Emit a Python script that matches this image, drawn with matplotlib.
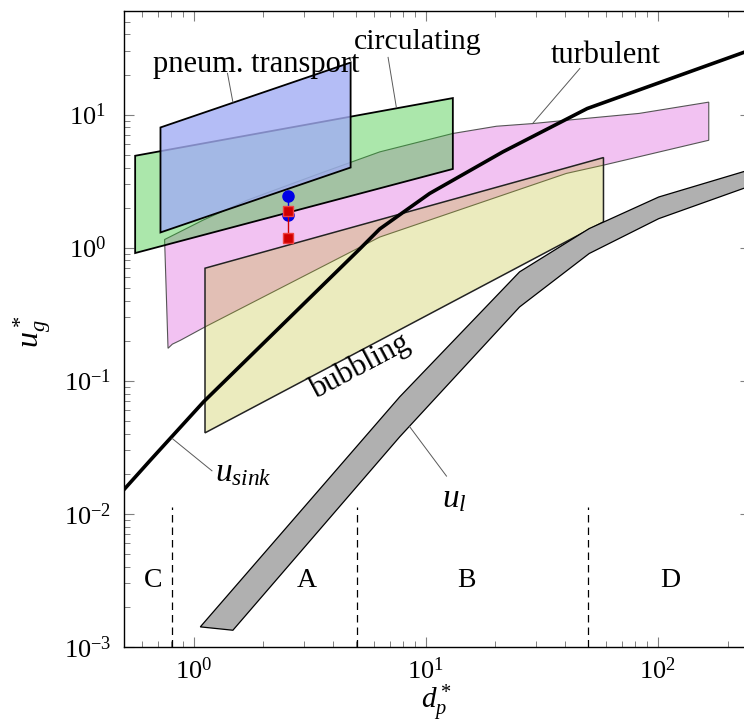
import matplotlib
matplotlib.use("Agg")
import matplotlib.pyplot as plt
from matplotlib.patches import Polygon

plt.rcParams["font.family"] = ["Liberation Serif", "DejaVu Serif"]
plt.rcParams["mathtext.fontset"] = "custom"
plt.rcParams["mathtext.rm"] = "Liberation Serif"
plt.rcParams["mathtext.it"] = "Liberation Serif:italic"

# regime areas (d_p*, u_g*)
pneum_x = [0.72, 4.75, 4.75, 0.72]
pneum_y = [8.0, 24.6, 4.0, 1.3]

circ_x = [0.56, 13.1, 13.1, 0.56]
circ_y = [4.9, 13.3, 3.9, 0.91]

turb_x = [0.750, 1.10, 1.70, 3.50, 6.34, 13.06, 20.2, 28.8, 40.4, 83.2, 166,
          166, 58.2, 40.4, 6.34, 1.123, 0.877, 0.81, 0.776]
turb_y = [1.15, 1.61, 2.27, 3.61, 5.24, 7.20, 8.17, 8.55, 9.06, 10.2, 12.4,
          6.41, 4.16, 3.61, 1.20, 0.254, 0.201, 0.188, 0.175]

bubb_x = [1.12, 58.4, 58.4, 1.12]
bubb_y = [0.70, 4.75, 1.56, 0.0405]

# terminal velocity u_sink
sink_x = [0.5, 0.652, 1.104, 5.2, 6.34, 10.4, 21.5, 49.7, 250]
sink_y = [0.0151, 0.0253, 0.0693, 0.976, 1.38, 2.55, 5.24, 11.1, 30.5]

# minimum fluidization band u_l
ul_up_x = [1.069, 7.73, 25.4, 50.7, 101, 250]
ul_up_y = [0.00141, 0.0755, 0.657, 1.39, 2.40, 3.85]
ul_lo_x = [1.477, 7.73, 25.4, 50.7, 101, 250]
ul_lo_y = [0.00133, 0.0378, 0.358, 0.903, 1.65, 2.9]

# Geldart group borders
geldart_x = [0.81, 5.07, 50.0]
geldart_top = 0.0112
groups = ["C", "A", "B", "D"]
groups_x = [0.668, 3.07, 15.0, 113]
groups_y = 0.00312

# measured points
pt_x = [2.54, 2.54]
blue_y = [2.45, 1.75]
red_y = [1.89, 1.18]

fig = plt.figure(figsize=(7.44, 7.26), dpi=100)
ax = fig.add_axes([0.1663, 0.1092, 0.8418, 0.8756])
ax.set_xscale("log")
ax.set_yscale("log")
ax.set_xlim(0.5, 250)
ax.set_ylim(1e-3, 60)

# fills: pink at the back, yellow / green / blue semi transparent on top
ax.add_patch(Polygon(list(zip(turb_x, turb_y)), closed=True, fc="#f2c2f2",
                     ec="#555555", lw=0.8, zorder=2))
ax.add_patch(Polygon(list(zip(bubb_x, bubb_y)), closed=True, fc=(0.73, 0.73, 0.09, 0.28),
                     ec="#222222", lw=1.1, zorder=3))
ax.add_patch(Polygon(list(zip(circ_x, circ_y)), closed=True, fc=(0.18, 0.77, 0.18, 0.4),
                     ec="black", lw=1.3, zorder=4))
ax.add_patch(Polygon(list(zip(pneum_x, pneum_y)), closed=True, fc=(0.635, 0.68, 0.955, 0.8),
                     ec="black", lw=1.3, zorder=5))

band = list(zip(ul_up_x, ul_up_y)) + list(zip(ul_lo_x[::-1], ul_lo_y[::-1]))
ax.add_patch(Polygon(band, closed=True, fc="#b0b0b0", ec="black", lw=0.9, zorder=6))

ax.plot(sink_x, sink_y, color="black", lw=2.6, zorder=7)

for gx in geldart_x:
    ax.plot([gx, gx], [1e-3, geldart_top], color="black", lw=0.9,
            dashes=(6, 4), zorder=6)
for g, gx in zip(groups, groups_x):
    ax.text(gx, groups_y, g, fontsize=20, ha="center", va="center")

ax.plot(pt_x, blue_y, color="#0000e6", marker="o", ms=8, lw=1, zorder=8)
ax.plot(pt_x, red_y, color="#d00000", marker="s", ms=7.5, mec="#f04040", lw=1, zorder=9)

# labels with leader lines
lead = dict(color="0.35", lw=0.7, zorder=8)
ax.text(1.87, 20.9, "pneum. transport", fontsize=22, ha="center", va="baseline", zorder=10)
ax.plot([1.40, 1.477], [20.4, 12.4], **lead)
ax.text(9.24, 31.3, "circulating", fontsize=21.5, ha="center", va="baseline", zorder=10)
ax.plot([6.89, 7.48], [26.9, 11.3], **lead)
ax.text(59.8, 24.2, "turbulent", fontsize=22, ha="center", va="baseline", zorder=10)
ax.plot([46.2, 28.9], [22.2, 8.56], **lead)
ax.text(5.20, 0.128, "bubbling", fontsize=22, ha="center", va="center",
        rotation=28, zorder=10)
ax.text(1.24, 0.0174, r"$u_{sink}$", fontsize=24, ha="left", va="baseline", zorder=10)
ax.plot([1.20, 0.808], [0.0210, 0.0368], **lead)
ax.text(11.8, 0.01127, r"$u_{l}$", fontsize=24, ha="left", va="baseline", zorder=10)
ax.plot([12.3, 8.54], [0.01916, 0.0450], **lead)

ax.tick_params(which="both", direction="in", top=True, right=True, color="0.5",
               labelsize=19)
ax.tick_params(axis="x", pad=8)
ax.tick_params(axis="y", pad=26)
for lab in ax.get_yticklabels():
    lab.set_horizontalalignment("center")
ax.tick_params(which="major", length=7, width=0.8)
ax.tick_params(which="minor", length=4.5, width=0.7)
for s in ax.spines.values():
    s.set_linewidth(1.0)

fig.text(436 / 744, 1 - 703 / 726, r"$d_p^*$", fontsize=21, ha="center", va="center")
fig.text(32 / 744, 1 - 332 / 726, r"$u_g^*$", fontsize=23, ha="center", va="center",
         rotation=90)

fig.savefig("out.png", dpi=100)
